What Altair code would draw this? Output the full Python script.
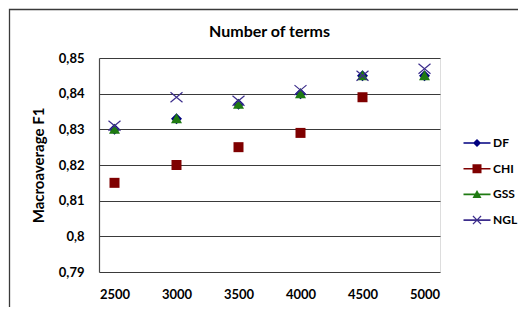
import altair as alt
import pandas as pd

terms = [2500, 3000, 3500, 4000, 4500, 5000]
series_names = ["DF", "CHI", "GSS", "NGL"]
df_vals = [0.830, 0.833, 0.837, 0.840, 0.845, 0.845]
chi_vals = [0.815, 0.820, 0.825, 0.829, 0.839, None]
gss_vals = [0.830, 0.833, 0.837, 0.840, 0.845, 0.845]
ngl_vals = [0.831, 0.839, 0.838, 0.841, 0.845, 0.847]
y_ticks = [0.79, 0.80, 0.81, 0.82, 0.83, 0.84, 0.85]

colors = {"DF": "#000080", "CHI": "#7f0000", "GSS": "#1f7a12", "NGL": "#3c2d8c"}

rows = []
for name, vals in zip(series_names, [df_vals, chi_vals, gss_vals, ngl_vals]):
    for t, v in zip(terms, vals):
        if v is not None:
            rows.append({"series": name, "terms": str(t), "value": v})
data = pd.DataFrame(rows)

FONT = "Lato"

x_enc = alt.X("terms:O", sort=[str(t) for t in terms],
              scale=alt.Scale(type="point", padding=0.25),
              axis=alt.Axis(title=None, labelAngle=0, ticks=False, domain=False,
                            grid=False, labelPadding=16, labelFontSize=13,
                            labelFontWeight="bold", labelFont=FONT, labelColor="#000"))
y_enc = alt.Y("value:Q", scale=alt.Scale(domain=[0.79, 0.85], zero=False, nice=False),
              axis=alt.Axis(title="Macroaverage F1", values=y_ticks, ticks=False,
                            labelPadding=15, labelFontSize=13, labelFontWeight="bold",
                            labelFont=FONT, labelColor="#000",
                            labelExpr="replace(format(datum.value, '~g'), '.', ',')",
                            grid=True, gridColor="#3a3a3a", gridWidth=1.2,
                            domain=True, domainColor="#4a4a4a", domainWidth=1.2,
                            titleFont=FONT, titleFontSize=15, titleFontWeight="bold",
                            titleColor="#000", titlePadding=12))

plot_shapes = {
    "DF": "M0,-1.1L1.1,0L0,1.1L-1.1,0Z",
    "CHI": "square",
    "GSS": "M0,-1.1L1.1,0.9L-1.1,0.9Z",
    "NGL": "M-1.2,-1L1.2,1M1.2,-1L-1.2,1",
}

layers = []
for name in series_names:
    filled = name != "NGL"
    layers.append(
        alt.Chart(data)
        .transform_filter(alt.datum.series == name)
        .mark_point(shape=plot_shapes[name], filled=filled, size=100,
                    color=colors[name], opacity=1, strokeWidth=1.2)
        .encode(x=x_enc, y=y_enc)
    )

def xpoly(a, d):
    pts = [(-a, -a + d), (-a + d, -a), (0, -d), (a - d, -a), (a, -a + d), (d, 0),
           (a, a - d), (a - d, a), (0, d), (-a + d, a), (-a, a - d), (-d, 0)]
    return "M" + "L".join(f"{px:.3f},{py:.3f}" for px, py in pts) + "Z"

line = "M-1.5,-0.09H1.5V0.09H-1.5Z"
legend_shapes = [
    line + "M0,-0.45L0.45,0L0,0.45L-0.45,0Z",
    line + "M-0.5,-0.5H0.5V0.5H-0.5Z",
    line + "M0,-0.5L0.5,0.4L-0.5,0.4Z",
    line + xpoly(0.5, 0.1),
]

def make_legend():
    return alt.Legend(title=None, orient="none", legendX=369, legendY=76,
                      symbolSize=324, symbolOpacity=1, symbolStrokeWidth=0,
                      labelFont=FONT, labelFontSize=12, labelFontWeight="bold",
                      labelColor="#000", labelOffset=7, rowPadding=10.7)

legend_layer = (
    alt.Chart(data)
    .mark_point(filled=True, opacity=0)
    .encode(
        x=x_enc, y=y_enc,
        color=alt.Color("series:N", scale=alt.Scale(domain=series_names,
                        range=[colors[s] for s in series_names]),
                        legend=make_legend()),
        shape=alt.Shape("series:N", scale=alt.Scale(domain=series_names, range=legend_shapes),
                        legend=make_legend()),
    )
)

frame = alt.Chart(data).mark_rect(fill=None, stroke="#3a3a3a", strokeWidth=1.3, clip=False).encode(
    x=alt.value(-89.5), x2=alt.value(700), y=alt.value(-48.5), y2=alt.value(400)
).transform_filter(alt.datum.terms == "2500").transform_filter(alt.datum.series == "DF")

chart = alt.layer(frame, *layers, legend_layer).properties(
    width=341, height=214,
    title=alt.Title("Number of terms", font=FONT, fontSize=16, fontWeight="bold",
                    color="#000", offset=-31, anchor="middle"),
    autosize=alt.AutoSizeParams(type="none"),
    padding={"left": 91, "top": 50, "right": 78, "bottom": 35},
).configure_view(stroke=None).configure(background="white")

chart.save("out.html", embed_options={"renderer": "svg", "actions": False})
